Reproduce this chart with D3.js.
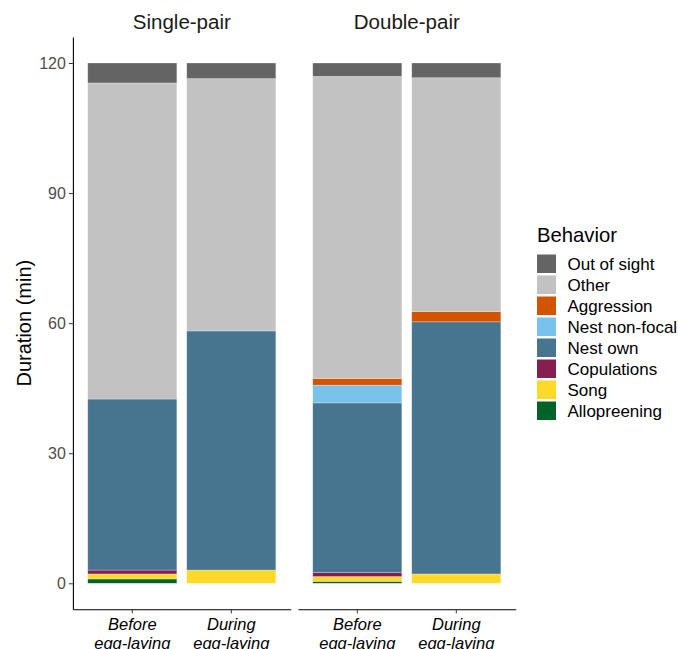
<!DOCTYPE html>
<html>
<head>
<meta charset="utf-8">
<script src="https://cdn.jsdelivr.net/npm/d3@7"></script>
<style>
  html, body { margin: 0; padding: 0; background: #fff; }
  svg { display: block; font-family: "Liberation Sans", Arial, sans-serif; }
</style>
</head>
<body>
<svg id="chart" width="678" height="649"></svg>
<script>
// Panels (pair treatment) and periods within each panel
const panels = ["Single-pair", "Double-pair"];
const periods = ["Before\negg-laying", "During\negg-laying"];

// Behaviours, listed from the bottom of each stack to the top
const behaviors = ["Allopreening", "Song", "Copulations", "Nest own",
                   "Nest non-focal", "Aggression", "Other", "Out of sight"];
const behaviorColors = ["#006428", "#ffd92a", "#861f50", "#47758f",
                        "#79c2ec", "#d35400", "#c2c2c2", "#646464"];

// Duration (min) per behaviour; order: single/before, single/during, double/before, double/during
const allopreening = [1.0, 0.0, 0.45, 0.0];
const song = [1.15, 3.05, 1.1, 2.15];
const copulations = [0.9, 0.0, 0.9, 0.0];
const nestOwn = [39.45, 55.15, 39.15, 58.15];
const nestNonFocal = [0.0, 0.0, 4.1, 0.0];
const aggression = [0.0, 0.0, 1.55, 2.4];
const other = [72.9, 58.2, 69.65, 53.9];
const outOfSight = [4.6, 3.6, 3.1, 3.4];

const yTicks = [0, 30, 60, 90, 120];

const seriesByBehavior = {
  "Allopreening": allopreening, "Song": song, "Copulations": copulations,
  "Nest own": nestOwn, "Nest non-focal": nestNonFocal, "Aggression": aggression,
  "Other": other, "Out of sight": outOfSight
};

// One row per bar
const rows = [];
panels.forEach((p, pi) => periods.forEach((per, ei) => {
  const i = pi * 2 + ei;
  const r = { panel: p, period: per };
  behaviors.forEach(b => { r[b] = seriesByBehavior[b][i]; });
  rows.push(r);
}));

const svg = d3.select("#chart");

const y = d3.scaleLinear().domain([-6, 126]).range([609.3, 37]);
const color = d3.scaleOrdinal().domain(behaviors).range(behaviorColors);
const panelX = d3.scaleOrdinal().domain(panels).range([72.9, 297.9]);
const panelW = 217.8;

const stacked = d3.stack().keys(behaviors)(rows);

panels.forEach(p => {
  const g = svg.append("g").attr("transform", `translate(${panelX(p)},0)`);
  const x = d3.scaleBand().domain(periods).range([0, panelW])
    .paddingInner(0.1).paddingOuter(0.15);

  stacked.forEach(layer => {
    g.selectAll(null)
      .data(layer.filter(d => d.data.panel === p && d[1] - d[0] > 0))
      .enter().append("rect")
      .attr("x", d => x(d.data.period))
      .attr("width", x.bandwidth())
      .attr("y", d => y(d[1]))
      .attr("height", d => y(d[0]) - y(d[1]))
      .attr("fill", color(layer.key))
      .attr("stroke", "#ffffff")
      .attr("stroke-opacity", 0.45)
      .attr("stroke-width", 0.6);
  });

  // facet strip title
  g.append("text")
    .attr("x", panelW / 2).attr("y", 28.5)
    .attr("text-anchor", "middle")
    .attr("font-size", 20.5).attr("fill", "#1a1a1a")
    .text(p);

  // x axis
  const xAxis = g.append("g").attr("transform", `translate(0,${y(-6)})`)
    .call(d3.axisBottom(x).tickSize(4).tickSizeOuter(0).tickFormat(""));
  xAxis.select(".domain").attr("stroke", "#000").attr("stroke-width", 1.1);
  xAxis.selectAll(".tick line").attr("stroke", "#333");

  xAxis.selectAll(".tick").each(function (d) {
    const t = d3.select(this).append("text")
      .attr("text-anchor", "middle")
      .attr("font-size", 16.5)
      .attr("font-style", "italic")
      .attr("fill", "#000");
    d.split("\n").forEach((line, li) => {
      t.append("tspan").attr("x", 0).attr("y", 21 + li * 18.5).text(line);
    });
  });
});

// y axis on the left panel
const yAxis = svg.append("g").attr("transform", `translate(${panelX(panels[0])},0)`)
  .call(d3.axisLeft(y).tickValues(yTicks).tickSize(4).tickSizeOuter(0).tickPadding(3));
yAxis.select(".domain").attr("stroke", "#000").attr("stroke-width", 1.1);
yAxis.selectAll(".tick line").attr("stroke", "#333");
yAxis.selectAll(".tick text")
  .attr("font-size", 16).attr("fill", "#4d4d4d")
  .attr("font-family", "Liberation Sans, Arial, sans-serif");

svg.append("text")
  .attr("transform", `translate(31,${(37 + 609.3) / 2}) rotate(-90)`)
  .attr("text-anchor", "middle")
  .attr("font-size", 20).attr("fill", "#000")
  .text("Duration (min)");

// legend, top entry is the top of the stack
const legend = svg.append("g").attr("transform", "translate(537,0)");
legend.append("text")
  .attr("x", 0).attr("y", 242)
  .attr("font-size", 20.3).attr("fill", "#000")
  .text("Behavior");

const legendItems = behaviors.slice().reverse();
const ky = d3.scaleBand().domain(legendItems).range([254.5, 254.5 + 21 * legendItems.length]);
legendItems.forEach(b => {
  legend.append("rect")
    .attr("x", 0).attr("y", ky(b))
    .attr("width", 19).attr("height", 18.5)
    .attr("fill", color(b));
  legend.append("text")
    .attr("x", 30.5).attr("y", ky(b) + 15)
    .attr("font-size", 17).attr("fill", "#000")
    .text(b);
});
</script>
</body>
</html>
